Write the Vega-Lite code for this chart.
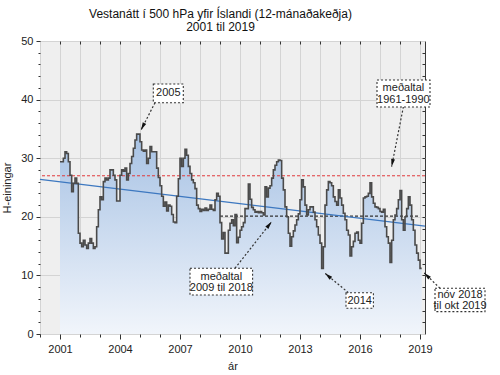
{
  "$schema": "https://vega.github.io/schema/vega-lite/v6.json",
  "width": 385,
  "height": 293,
  "autosize": {"type": "none"},
  "padding": {"left": 40, "top": 41, "right": 75, "bottom": 41},
  "background": "white",
  "config": {
    "view": {"fill": "#efefef", "stroke": "#3a3a3a", "strokeWidth": 1},
    "font": "Liberation Sans",
    "axis": {"labelFont": "Liberation Sans", "labelFontSize": 11, "labelColor": "#222", "titleFont": "Liberation Sans", "titleFontSize": 11, "titleFontWeight": "normal", "titleColor": "#222", "tickColor": "#333", "gridColor": "#d4d4d4", "domain": false}
  },
  "title": {
    "text": ["Vestanátt í 500 hPa yfir Íslandi (12-mánaðakeðja)", "2001 til 2019"],
    "fontSize": 12, "fontWeight": "normal", "font": "Liberation Sans", "color": "#111",
    "anchor": "middle", "dx": -12, "dy": 20, "offset": 9, "baseline": "bottom", "lineHeight": 13
  },
  "datasets": {
    "series": [
      {"t":2001.000,"v":29.4},{"t":2001.083,"v":29.4},{"t":2001.167,"v":30.0},{"t":2001.250,"v":31.1},{"t":2001.333,"v":30.8},{"t":2001.417,"v":29.4},{"t":2001.500,"v":27.1},{"t":2001.583,"v":24.3},{"t":2001.667,"v":25.7},{"t":2001.750,"v":26.6},{"t":2001.833,"v":25.7},{"t":2001.917,"v":17.2},
      {"t":2002.000,"v":15.5},{"t":2002.083,"v":14.9},{"t":2002.167,"v":16.0},{"t":2002.250,"v":15.2},{"t":2002.333,"v":14.6},{"t":2002.417,"v":15.5},{"t":2002.500,"v":16.3},{"t":2002.583,"v":15.5},{"t":2002.667,"v":14.6},{"t":2002.750,"v":14.9},{"t":2002.833,"v":18.3},{"t":2002.917,"v":21.2},
      {"t":2003.000,"v":23.4},{"t":2003.083,"v":22.9},{"t":2003.167,"v":26.0},{"t":2003.250,"v":26.6},{"t":2003.333,"v":26.3},{"t":2003.417,"v":26.6},{"t":2003.500,"v":28.0},{"t":2003.583,"v":28.0},{"t":2003.667,"v":27.1},{"t":2003.750,"v":26.3},{"t":2003.833,"v":22.7},{"t":2003.917,"v":22.7},
      {"t":2004.000,"v":27.1},{"t":2004.083,"v":28.0},{"t":2004.167,"v":27.8},{"t":2004.250,"v":28.3},{"t":2004.333,"v":26.3},{"t":2004.417,"v":27.4},{"t":2004.500,"v":29.1},{"t":2004.583,"v":30.3},{"t":2004.667,"v":31.7},{"t":2004.750,"v":33.1},{"t":2004.833,"v":34.1},{"t":2004.917,"v":34.1},
      {"t":2005.000,"v":32.8},{"t":2005.083,"v":31.4},{"t":2005.167,"v":31.2},{"t":2005.250,"v":31.4},{"t":2005.333,"v":29.1},{"t":2005.417,"v":30.0},{"t":2005.500,"v":32.0},{"t":2005.583,"v":31.1},{"t":2005.667,"v":31.1},{"t":2005.750,"v":31.1},{"t":2005.833,"v":28.3},{"t":2005.917,"v":26.7},
      {"t":2006.000,"v":25.3},{"t":2006.083,"v":23.5},{"t":2006.167,"v":21.8},{"t":2006.250,"v":22.5},{"t":2006.333,"v":21.0},{"t":2006.417,"v":22.0},{"t":2006.500,"v":21.8},{"t":2006.583,"v":20.4},{"t":2006.667,"v":19.1},{"t":2006.750,"v":19.0},{"t":2006.833,"v":23.5},{"t":2006.917,"v":26.5},
      {"t":2007.000,"v":30.0},{"t":2007.083,"v":28.6},{"t":2007.167,"v":30.0},{"t":2007.250,"v":31.5},{"t":2007.333,"v":30.5},{"t":2007.417,"v":28.6},{"t":2007.500,"v":27.4},{"t":2007.583,"v":26.3},{"t":2007.667,"v":25.8},{"t":2007.750,"v":24.8},{"t":2007.833,"v":22.0},{"t":2007.917,"v":21.4},
      {"t":2008.000,"v":20.9},{"t":2008.083,"v":21.3},{"t":2008.167,"v":21.1},{"t":2008.250,"v":21.5},{"t":2008.333,"v":21.1},{"t":2008.417,"v":21.3},{"t":2008.500,"v":22.0},{"t":2008.583,"v":21.3},{"t":2008.667,"v":21.1},{"t":2008.750,"v":22.9},{"t":2008.833,"v":24.0},{"t":2008.917,"v":23.5},
      {"t":2009.000,"v":19.0},{"t":2009.083,"v":16.2},{"t":2009.167,"v":17.3},{"t":2009.250,"v":13.8},{"t":2009.333,"v":13.8},{"t":2009.417,"v":17.7},{"t":2009.500,"v":18.9},{"t":2009.583,"v":19.5},{"t":2009.667,"v":18.5},{"t":2009.750,"v":20.4},{"t":2009.833,"v":15.6},{"t":2009.917,"v":16.5},
      {"t":2010.000,"v":17.7},{"t":2010.083,"v":18.3},{"t":2010.167,"v":19.0},{"t":2010.250,"v":21.4},{"t":2010.333,"v":21.4},{"t":2010.417,"v":25.6},{"t":2010.500,"v":23.0},{"t":2010.583,"v":21.6},{"t":2010.667,"v":21.2},{"t":2010.750,"v":20.8},{"t":2010.833,"v":20.9},{"t":2010.917,"v":20.7},
      {"t":2011.000,"v":20.9},{"t":2011.083,"v":20.7},{"t":2011.167,"v":20.3},{"t":2011.250,"v":25.1},{"t":2011.333,"v":23.4},{"t":2011.417,"v":24.9},{"t":2011.500,"v":25.3},{"t":2011.583,"v":26.6},{"t":2011.667,"v":28.0},{"t":2011.750,"v":28.8},{"t":2011.833,"v":29.4},{"t":2011.917,"v":29.7},
      {"t":2012.000,"v":29.6},{"t":2012.083,"v":26.6},{"t":2012.167,"v":24.6},{"t":2012.250,"v":21.7},{"t":2012.333,"v":20.0},{"t":2012.417,"v":17.2},{"t":2012.500,"v":15.0},{"t":2012.583,"v":16.6},{"t":2012.667,"v":17.6},{"t":2012.750,"v":18.6},{"t":2012.833,"v":19.5},{"t":2012.917,"v":20.5},
      {"t":2013.000,"v":22.9},{"t":2013.083,"v":26.3},{"t":2013.167,"v":25.1},{"t":2013.250,"v":22.0},{"t":2013.333,"v":20.3},{"t":2013.417,"v":21.2},{"t":2013.500,"v":21.7},{"t":2013.583,"v":21.7},{"t":2013.667,"v":20.8},{"t":2013.750,"v":19.5},{"t":2013.833,"v":18.3},{"t":2013.917,"v":16.9},
      {"t":2014.000,"v":15.5},{"t":2014.083,"v":11.2},{"t":2014.167,"v":14.9},{"t":2014.250,"v":22.0},{"t":2014.333,"v":24.6},{"t":2014.417,"v":26.0},{"t":2014.500,"v":25.8},{"t":2014.583,"v":25.3},{"t":2014.667,"v":23.4},{"t":2014.750,"v":22.6},{"t":2014.833,"v":22.0},{"t":2014.917,"v":24.6},
      {"t":2015.000,"v":23.2},{"t":2015.083,"v":22.0},{"t":2015.167,"v":20.6},{"t":2015.250,"v":19.5},{"t":2015.333,"v":17.7},{"t":2015.417,"v":16.9},{"t":2015.500,"v":13.3},{"t":2015.583,"v":14.9},{"t":2015.667,"v":15.8},{"t":2015.750,"v":17.2},{"t":2015.833,"v":17.4},{"t":2015.917,"v":16.0},
      {"t":2016.000,"v":15.5},{"t":2016.083,"v":18.9},{"t":2016.167,"v":23.2},{"t":2016.250,"v":23.4},{"t":2016.333,"v":23.5},{"t":2016.417,"v":24.0},{"t":2016.500,"v":25.8},{"t":2016.583,"v":23.4},{"t":2016.667,"v":22.3},{"t":2016.750,"v":21.7},{"t":2016.833,"v":21.6},{"t":2016.917,"v":21.4},
      {"t":2017.000,"v":20.9},{"t":2017.083,"v":20.8},{"t":2017.167,"v":21.3},{"t":2017.250,"v":18.3},{"t":2017.333,"v":16.6},{"t":2017.417,"v":15.5},{"t":2017.500,"v":12.2},{"t":2017.583,"v":16.0},{"t":2017.667,"v":19.5},{"t":2017.750,"v":20.3},{"t":2017.833,"v":21.4},{"t":2017.917,"v":22.9},
      {"t":2018.000,"v":24.5},{"t":2018.083,"v":19.5},{"t":2018.167,"v":17.7},{"t":2018.250,"v":20.0},{"t":2018.333,"v":21.4},{"t":2018.417,"v":23.4},{"t":2018.500,"v":22.0},{"t":2018.583,"v":19.5},{"t":2018.667,"v":17.7},{"t":2018.750,"v":15.2},{"t":2018.833,"v":13.8},{"t":2018.917,"v":12.6},
      {"t":2019.000,"v":11.2},{"t":2019.083,"v":11.2}
    ]
  },
  "layer": [
    {
      "data": {"name": "series"},
      "mark": {"type": "area", "interpolate": "step-after", "line": false,
        "color": {"gradient": "linear", "x1": 0, "y1": 0, "x2": 0, "y2": 1,
          "stops": [{"offset": 0, "color": "#a7c2e4"}, {"offset": 1, "color": "#f1f5fb"}]}},
      "encoding": {
        "x": {"field": "t", "type": "quantitative", "scale": {"domain": [2000, 2019.25], "nice": false, "zero": false},
          "axis": {"orient": "bottom", "title": "ár", "values": [2000,2001,2002,2003,2004,2005,2006,2007,2008,2009,2010,2011,2012,2013,2014,2015,2016,2017,2018,2019],
            "labelExpr": "(datum.value - 2001) % 3 == 0 ? format(datum.value, 'd') : ''",
            "grid": true, "tickSize": {"condition": {"test": "(datum.value - 2001) % 3 == 0", "value": 5}, "value": 3},
            "labelPadding": 4, "titlePadding": 6}},
        "y": {"field": "v", "type": "quantitative", "scale": {"domain": [0, 50], "nice": false},
          "axis": {"orient": "left", "title": "H-einingar", "values": [0,2,4,6,8,10,12,14,16,18,20,22,24,26,28,30,32,34,36,38,40,42,44,46,48,50],
            "labelExpr": "datum.value % 10 == 0 ? format(datum.value, 'd') : ''",
            "grid": true, "gridOpacity": {"condition": {"test": "datum.value % 10 == 0", "value": 1}, "value": 0},
            "tickSize": {"condition": {"test": "datum.value % 10 == 0", "value": 4}, "value": 2},
            "labelPadding": 3, "titlePadding": 8}}
      }
    },
    {
      "data": {"values": [{"v": 27.0}]},
      "mark": {"type": "rule", "color": "#e0393b", "strokeDash": [3, 2], "strokeWidth": 1},
      "encoding": {"y": {"field": "v", "type": "quantitative", "scale": {"domain": [0, 50], "nice": false}, "axis": null}}
    },
    {
      "data": {"values": [{"t": 2009.0, "t2": 2019.0, "v": 20.1}]},
      "mark": {"type": "rule", "color": "#333", "strokeDash": [3, 2], "strokeWidth": 1.2},
      "encoding": {
        "x": {"field": "t", "type": "quantitative", "scale": {"domain": [2000, 2019.25], "nice": false, "zero": false}, "axis": null},
        "x2": {"field": "t2"},
        "y": {"field": "v", "type": "quantitative", "scale": {"domain": [0, 50], "nice": false}, "axis": null}
      }
    },
    {
      "data": {"values": [{"t": 2000.0, "v": 26.4}, {"t": 2019.25, "v": 18.4}]},
      "mark": {"type": "line", "color": "#3d78c0", "strokeWidth": 1.3},
      "encoding": {
        "x": {"field": "t", "type": "quantitative", "scale": {"domain": [2000, 2019.25], "nice": false, "zero": false},
          "axis": {"orient": "top", "title": null, "labels": false, "grid": false, "tickSize": -3,
            "values": [2001,2002,2003,2004,2005,2006,2007,2008,2009,2010,2011,2012,2013,2014,2015,2016,2017,2018,2019]}},
        "y": {"field": "v", "type": "quantitative", "scale": {"domain": [0, 50], "nice": false},
          "axis": {"orient": "right", "title": null, "labels": false, "grid": false, "tickSize": -3,
            "values": [2,4,6,8,10,12,14,16,18,20,22,24,26,28,30,32,34,36,38,40,42,44,46,48]}}
      }
    },
    {
      "data": {"name": "series"},
      "mark": {"type": "line", "interpolate": "step-after", "color": "#4a4a4a", "strokeWidth": 1.6},
      "encoding": {
        "x": {"field": "t", "type": "quantitative", "scale": {"domain": [2000, 2019.25], "nice": false, "zero": false}, "axis": null},
        "y": {"field": "v", "type": "quantitative", "scale": {"domain": [0, 50], "nice": false}, "axis": null}
      }
    },
    {
      "data": {"values": [
        {"t": 2005.75, "v": 39.47, "t2": 2005.05, "v2": 34.81},
        {"t": 2018.17, "v": 38.79, "t2": 2017.58, "v2": 28.55},
        {"t": 2009.75, "v": 11.21, "t2": 2011.58, "v2": 19.16},
        {"t": 2015.42, "v": 7.05, "t2": 2014.25, "v2": 10.36},
        {"t": 2020.0, "v": 7.80, "t2": 2019.2, "v2": 10.46}
      ]},
      "mark": {"type": "rule", "color": "#333", "strokeDash": [2, 2], "strokeWidth": 1.2},
      "encoding": {
        "x": {"field": "t", "type": "quantitative", "scale": {"domain": [2000, 2019.25], "nice": false, "zero": false}, "axis": null},
        "x2": {"field": "t2"},
        "y": {"field": "v", "type": "quantitative", "scale": {"domain": [0, 50], "nice": false}, "axis": null},
        "y2": {"field": "v2"}
      }
    },
    {
      "data": {"values": [{"t": 2005.05, "v": 34.81}]},
      "mark": {"type": "point", "shape": "M0,0L0.55,2.2L-0.55,2.2Z", "filled": true, "color": "#111", "opacity": 1, "size": 49, "angle": 207},
      "encoding": {
        "x": {"field": "t", "type": "quantitative", "scale": {"domain": [2000, 2019.25], "nice": false, "zero": false}, "axis": null},
        "y": {"field": "v", "type": "quantitative", "scale": {"domain": [0, 50], "nice": false}, "axis": null}
      }
    },
    {
      "data": {"values": [{"t": 2017.58, "v": 28.55}]},
      "mark": {"type": "point", "shape": "M0,0L0.55,2.2L-0.55,2.2Z", "filled": true, "color": "#111", "opacity": 1, "size": 49, "angle": 191},
      "encoding": {
        "x": {"field": "t", "type": "quantitative", "scale": {"domain": [2000, 2019.25], "nice": false, "zero": false}, "axis": null},
        "y": {"field": "v", "type": "quantitative", "scale": {"domain": [0, 50], "nice": false}, "axis": null}
      }
    },
    {
      "data": {"values": [{"t": 2011.58, "v": 19.16}]},
      "mark": {"type": "point", "shape": "M0,0L0.55,2.2L-0.55,2.2Z", "filled": true, "color": "#111", "opacity": 1, "size": 49, "angle": 38},
      "encoding": {
        "x": {"field": "t", "type": "quantitative", "scale": {"domain": [2000, 2019.25], "nice": false, "zero": false}, "axis": null},
        "y": {"field": "v", "type": "quantitative", "scale": {"domain": [0, 50], "nice": false}, "axis": null}
      }
    },
    {
      "data": {"values": [{"t": 2014.25, "v": 10.36}]},
      "mark": {"type": "point", "shape": "M0,0L0.55,2.2L-0.55,2.2Z", "filled": true, "color": "#111", "opacity": 1, "size": 49, "angle": 310},
      "encoding": {
        "x": {"field": "t", "type": "quantitative", "scale": {"domain": [2000, 2019.25], "nice": false, "zero": false}, "axis": null},
        "y": {"field": "v", "type": "quantitative", "scale": {"domain": [0, 50], "nice": false}, "axis": null}
      }
    },
    {
      "data": {"values": [{"t": 2019.2, "v": 10.46}]},
      "mark": {"type": "point", "shape": "M0,0L0.55,2.2L-0.55,2.2Z", "filled": true, "color": "#111", "opacity": 1, "size": 49, "angle": 314},
      "encoding": {
        "x": {"field": "t", "type": "quantitative", "scale": {"domain": [2000, 2019.25], "nice": false, "zero": false}, "axis": null},
        "y": {"field": "v", "type": "quantitative", "scale": {"domain": [0, 50], "nice": false}, "axis": null}
      }
    },
    {
      "data": {"values": [
        {"t": 2005.665, "t2": 2007.165, "v": 42.66, "v2": 39.47},
        {"t": 2016.85, "t2": 2019.5, "v": 43.34, "v2": 38.74},
        {"t": 2007.5, "t2": 2010.63, "v": 11.21, "v2": 6.66},
        {"t": 2015.3, "t2": 2016.67, "v": 7.05, "v2": 4.39},
        {"t": 2019.75, "t2": 2022.25, "v": 7.80, "v2": 3.81}
      ]},
      "mark": {"type": "rect", "fill": "white", "stroke": "#333", "strokeDash": [2, 2], "strokeWidth": 1.1},
      "encoding": {
        "x": {"field": "t", "type": "quantitative", "scale": {"domain": [2000, 2019.25], "nice": false, "zero": false}, "axis": null},
        "x2": {"field": "t2"},
        "y": {"field": "v", "type": "quantitative", "scale": {"domain": [0, 50], "nice": false}, "axis": null},
        "y2": {"field": "v2"}
      }
    },
    {
      "data": {"values": [
        {"t": 2006.415, "v": 41.1, "label": "2005"},
        {"t": 2018.17, "v": 41.95, "label": "meðaltal\n1961-1990"},
        {"t": 2009.065, "v": 9.8, "label": "meðaltal\n2009 til 2018"},
        {"t": 2015.985, "v": 5.7, "label": "2014"},
        {"t": 2021.0, "v": 6.7, "label": "nóv 2018\ntil okt 2019"}
      ]},
      "mark": {"type": "text", "align": "center", "baseline": "middle", "fontSize": 11, "lineBreak": "\n", "lineHeight": 11.5, "color": "#222", "font": "Liberation Sans"},
      "encoding": {
        "x": {"field": "t", "type": "quantitative", "scale": {"domain": [2000, 2019.25], "nice": false, "zero": false}, "axis": null},
        "y": {"field": "v", "type": "quantitative", "scale": {"domain": [0, 50], "nice": false}, "axis": null},
        "text": {"field": "label"}
      }
    }
  ],
  "resolve": {"axis": {"x": "independent", "y": "independent"}}
}
